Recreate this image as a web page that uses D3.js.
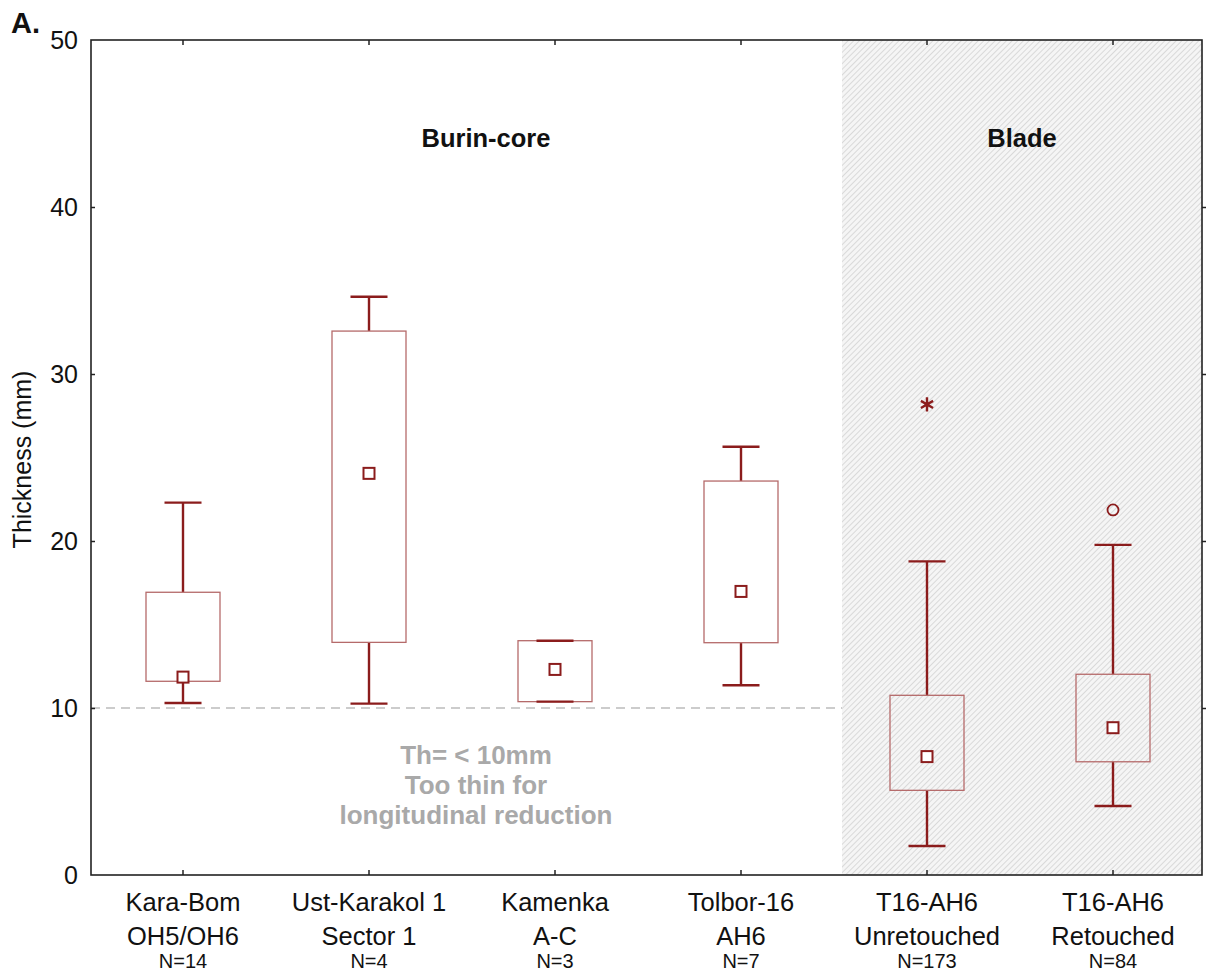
<!DOCTYPE html>
<html><head><meta charset="utf-8">
<script src="https://cdn.jsdelivr.net/npm/d3@7"></script>
<style>body{margin:0;background:#fff;} svg{display:block;font-family:"Liberation Sans",Arial,sans-serif;}</style>
</head><body>
<svg id="c" width="1206" height="971"></svg>
<script>
const categories = ["Kara-Bom|OH5/OH6", "Ust-Karakol 1|Sector 1", "Kamenka|A-C", "Tolbor-16|AH6", "T16-AH6|Unretouched", "T16-AH6|Retouched"];
const nLabels = ["N=14", "N=4", "N=3", "N=7", "N=173", "N=84"];
const whiskerLow  = [10.3, 10.26, 10.38, 11.36, 1.74, 4.13];
const boxLow      = [11.6, 13.93, 10.38, 13.91, 5.07, 6.78];
const medians     = [11.85, 24.05, 12.31, 16.98, 7.09, 8.82];
const boxHigh     = [16.93, 32.57, 14.03, 23.59, 10.76, 12.02];
const whiskerHigh = [22.3, 34.63, 14.03, 25.64, 18.78, 19.77];
const outliers = [{cat: 4, value: 28.18, type: "extreme"}, {cat: 5, value: 21.86, type: "outlier"}];
const yTicks = [0, 10, 20, 30, 40, 50];
const threshold = 10;
const groups = [{label: "Burin-core", from: 0, to: 3}, {label: "Blade", from: 4, to: 5}];
const annotation = ["Th= < 10mm", "Too thin for", "longitudinal reduction"];

const svg = d3.select("#c");
const L = 91, R = 1202, T = 40, B = 875;
const x = d3.scaleBand().domain(d3.range(categories.length)).range([90, 1206]);
const y = d3.scaleLinear().domain([0, 50]).range([B, T]);
const dark = "#8b1c1c", light = "#b56a6a";
const cx = i => x(i) + x.bandwidth() / 2;

// hatch pattern
const defs = svg.append("defs");
const pat = defs.append("pattern").attr("id", "hatch").attr("patternUnits", "userSpaceOnUse")
  .attr("width", 4).attr("height", 4).attr("patternTransform", "rotate(45)");
pat.append("rect").attr("width", 4).attr("height", 4).attr("fill", "#f5f5f5");
pat.append("line").attr("x1", 0).attr("y1", 0).attr("x2", 0).attr("y2", 4).attr("stroke", "#d0d0d0").attr("stroke-width", 1.5);

const bladeLeft = (cx(3) + cx(4)) / 2 + 8;
svg.append("rect").attr("x", bladeLeft).attr("y", T).attr("width", R - bladeLeft).attr("height", B - T).attr("fill", "url(#hatch)");

// threshold line
svg.append("line").attr("x1", L).attr("x2", bladeLeft).attr("y1", y(threshold)).attr("y2", y(threshold))
  .attr("stroke", "#cccccc").attr("stroke-width", 2).attr("stroke-dasharray", "9,6");

// frame
svg.append("rect").attr("x", L).attr("y", T).attr("width", R - L).attr("height", B - T).attr("fill", "none").attr("stroke", "#222").attr("stroke-width", 1.6);

// axes
const gy = svg.append("g").attr("transform", `translate(${L},0)`).call(d3.axisLeft(y).tickValues(yTicks).tickSize(0).tickPadding(13));
gy.select(".domain").remove();
gy.selectAll("text").attr("font-size", 25).attr("fill", "#111");
const gyi = svg.append("g").attr("transform", `translate(${L},0)`).call(d3.axisRight(y).tickValues(yTicks.slice(1, -1)).tickSize(4).tickFormat(""));
gyi.select(".domain").remove(); gyi.selectAll("line").attr("stroke", "#222").attr("stroke-width", 1.5);
const gyr = svg.append("g").attr("transform", `translate(${R},0)`).call(d3.axisRight(y).tickValues(yTicks.slice(1, -1)).tickSize(4).tickFormat(""));
gyr.select(".domain").remove(); gyr.selectAll("line").attr("stroke", "#222").attr("stroke-width", 1.5);

const xb = svg.append("g").attr("transform", `translate(0,${B})`).call(d3.axisBottom(x).tickSize(-5).tickFormat(""));
xb.select(".domain").remove(); xb.selectAll("line").attr("stroke", "#222").attr("stroke-width", 1.5);
const xt = svg.append("g").attr("transform", `translate(0,${T})`).call(d3.axisTop(x).tickSize(-5).tickFormat(""));
xt.select(".domain").remove(); xt.selectAll("line").attr("stroke", "#222").attr("stroke-width", 1.5);

// x labels
categories.forEach((c, i) => {
  const parts = c.split("|");
  const t = svg.append("text").attr("text-anchor", "middle").attr("fill", "#111").attr("font-size", 25.5);
  t.append("tspan").attr("x", cx(i)).attr("y", 911).text(parts[0]);
  t.append("tspan").attr("x", cx(i)).attr("y", 945).text(parts[1]);
  svg.append("text").attr("x", cx(i)).attr("y", 968).attr("text-anchor", "middle").attr("font-size", 20).attr("fill", "#111").text(nLabels[i]);
});

// y title
svg.append("text").attr("transform", `translate(31,${(T + B) / 2 + 2}) rotate(-90)`).attr("text-anchor", "middle")
  .attr("font-size", 25).attr("fill", "#111").text("Thickness (mm)");
svg.append("text").attr("x", 11).attr("y", 33).attr("font-size", 29).attr("font-weight", "bold").attr("fill", "#111").text("A.");

// group labels
groups.forEach(gr => {
  const gx = gr.from === 0 ? 486 : (bladeLeft + R) / 2;
  svg.append("text").attr("x", gx).attr("y", 147).attr("text-anchor", "middle").attr("font-size", 25.5)
    .attr("font-weight", "bold").attr("fill", "#111").text(gr.label);
});

// annotation
annotation.forEach((s, k) => svg.append("text").attr("x", 476).attr("y", 764 + k * 30).attr("text-anchor", "middle")
  .attr("font-size", 26).attr("font-weight", "bold").attr("fill", "#a9a9a9").text(s));

// boxes
const bw = 74, cw = 37;
categories.forEach((c, i) => {
  const g = svg.append("g");
  const xc = cx(i);
  if (whiskerHigh[i] > boxHigh[i]) g.append("line").attr("x1", xc).attr("x2", xc).attr("y1", y(whiskerHigh[i])).attr("y2", y(boxHigh[i])).attr("stroke", dark).attr("stroke-width", 2.4);
  if (whiskerLow[i] < boxLow[i]) g.append("line").attr("x1", xc).attr("x2", xc).attr("y1", y(whiskerLow[i])).attr("y2", y(boxLow[i])).attr("stroke", dark).attr("stroke-width", 2.4);
  g.append("rect").attr("x", xc - bw / 2).attr("y", y(boxHigh[i])).attr("width", bw).attr("height", y(boxLow[i]) - y(boxHigh[i]))
    .attr("fill", i >= 4 ? "none" : "#fff").attr("stroke", light).attr("stroke-width", 1.3);
  [whiskerHigh[i], whiskerLow[i]].forEach(v => g.append("line").attr("x1", xc - cw / 2).attr("x2", xc + cw / 2).attr("y1", y(v)).attr("y2", y(v)).attr("stroke", dark).attr("stroke-width", 2.4));
  g.append("rect").attr("x", xc - 5.5).attr("y", y(medians[i]) - 5.5).attr("width", 11).attr("height", 11).attr("fill", "#fff").attr("stroke", dark).attr("stroke-width", 2);
});

// outliers
outliers.forEach(o => {
  if (o.type === "extreme") {
    svg.append("path").attr("transform", `translate(${cx(o.cat)},${y(o.value)})`).attr("d", d3.symbol(d3.symbolAsterisk, 140)())
      .attr("fill", "none").attr("stroke", dark).attr("stroke-width", 2.4);
  } else {
    svg.append("circle").attr("cx", cx(o.cat)).attr("cy", y(o.value)).attr("r", 5.5).attr("fill", "none").attr("stroke", dark).attr("stroke-width", 1.8);
  }
});
</script>
</body></html>
